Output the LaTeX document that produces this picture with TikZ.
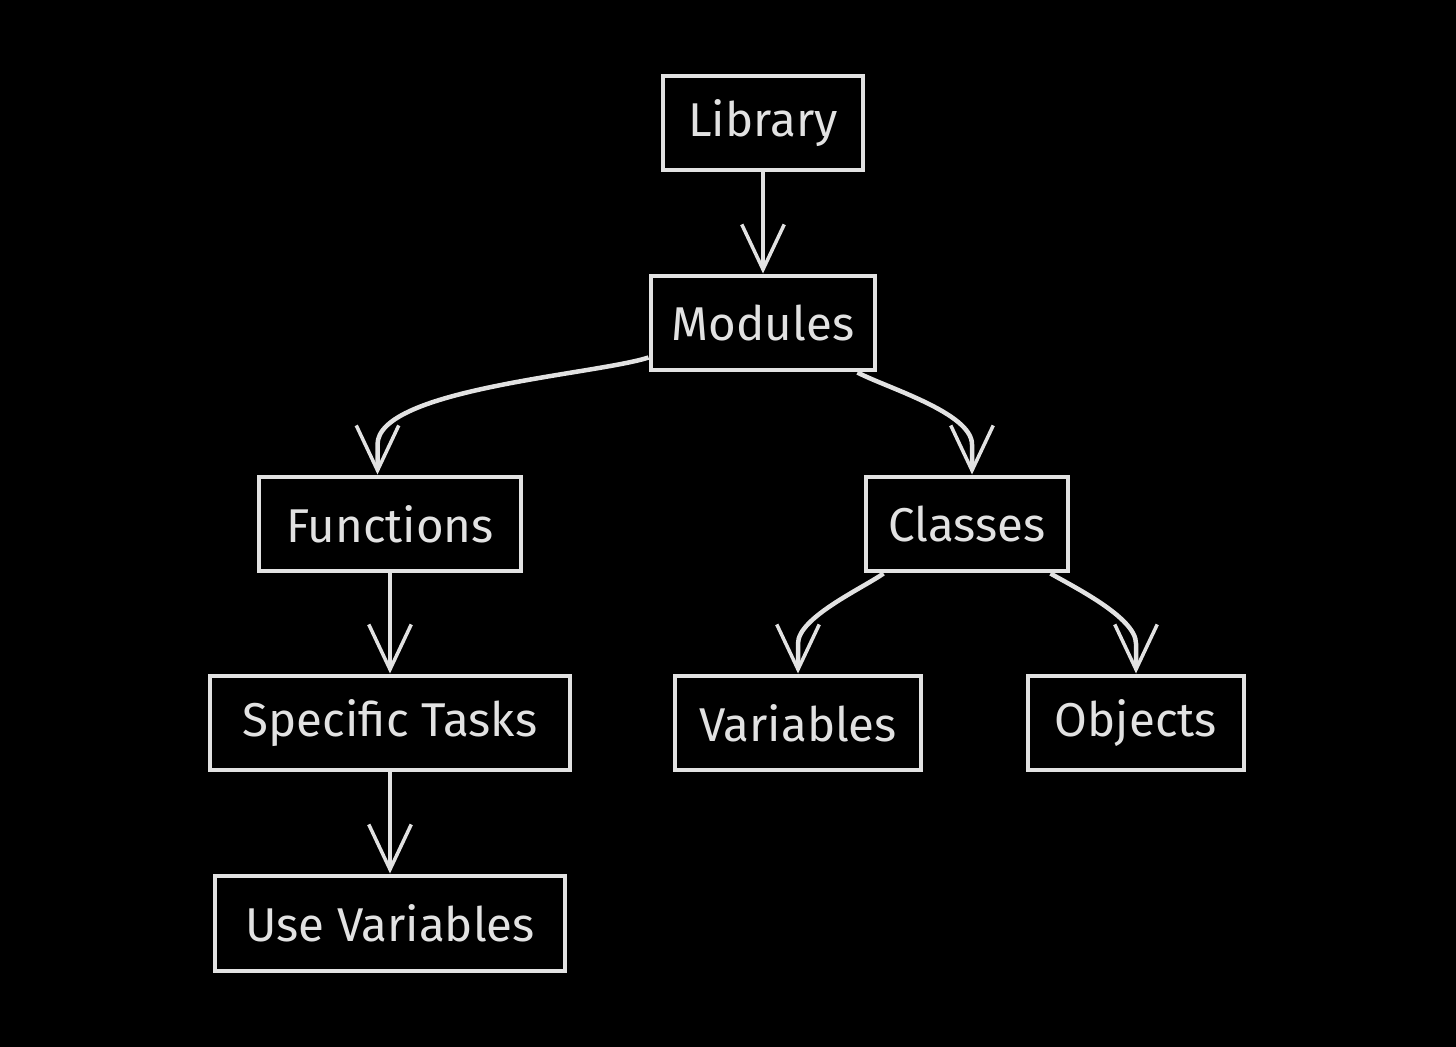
\documentclass[tikz,border=0pt]{standalone}
\usepackage{fontspec}
\setmainfont{Fira Sans}
\usetikzlibrary{arrows.meta}
\definecolor{chalk}{HTML}{E2E2E2}
\tikzset{
  box/.style={draw=chalk, line width=0.08cm, text=chalk, minimum height=1.9cm,
    font=\fontsize{27}{31}\selectfont, inner sep=0pt},
  link/.style={draw=chalk, line width=0.09cm, line join=round,
    -{Straight Barb[length=0.9cm,width=0.85cm,line width=0.07cm]}}
}
\begin{document}
\begin{tikzpicture}[x=0.02cm,y=-0.02cm]
    \fill[black] (0,0) rectangle (1456,1047);
    \node[box, minimum width=4.02cm] (lib) at (763,123) {Library};
    \node[box, minimum width=4.5cm] (mod) at (763,323) {Modules};
    \node[box, minimum width=5.26cm] (fun) at (390,524) {Functions};
    \node[box, minimum width=4.06cm] (cls) at (967,524) {Classes};
    \node[box, minimum width=7.2cm] (tsk) at (390,723) {Specific Tasks};
    \node[box, minimum width=4.94cm] (var) at (798,723) {Variables};
    \node[box, minimum width=4.34cm] (obj) at (1136,723) {Objects};
    \node[box, minimum width=7cm] (use) at (390,923) {Use Variables};
    % arrows
    \draw[link] (lib) -- (mod);
    \draw[link] ([yshift=0.3cm]mod.south west) to[out=198,in=90,looseness=0.5] ([xshift=-0.25cm,yshift=0.6cm]fun.north) -- ([xshift=-0.25cm]fun.north);
    \draw[link] ([xshift=-0.4cm]mod.south east) to[out=-28,in=90,looseness=0.6] ([xshift=0.1cm,yshift=0.6cm]cls.north) -- ([xshift=0.1cm]cls.north);
    \draw[link] (fun) -- (tsk);
    \draw[link] (tsk) -- (use);
    \draw[link] ([xshift=0.4cm]cls.south west) to[out=215,in=90,looseness=0.6] ([yshift=0.6cm]var.north) -- (var.north);
    \draw[link] ([xshift=-0.4cm]cls.south east) to[out=-30,in=90,looseness=0.6] ([yshift=0.6cm]obj.north) -- (obj.north);
\end{tikzpicture}
\end{document}
